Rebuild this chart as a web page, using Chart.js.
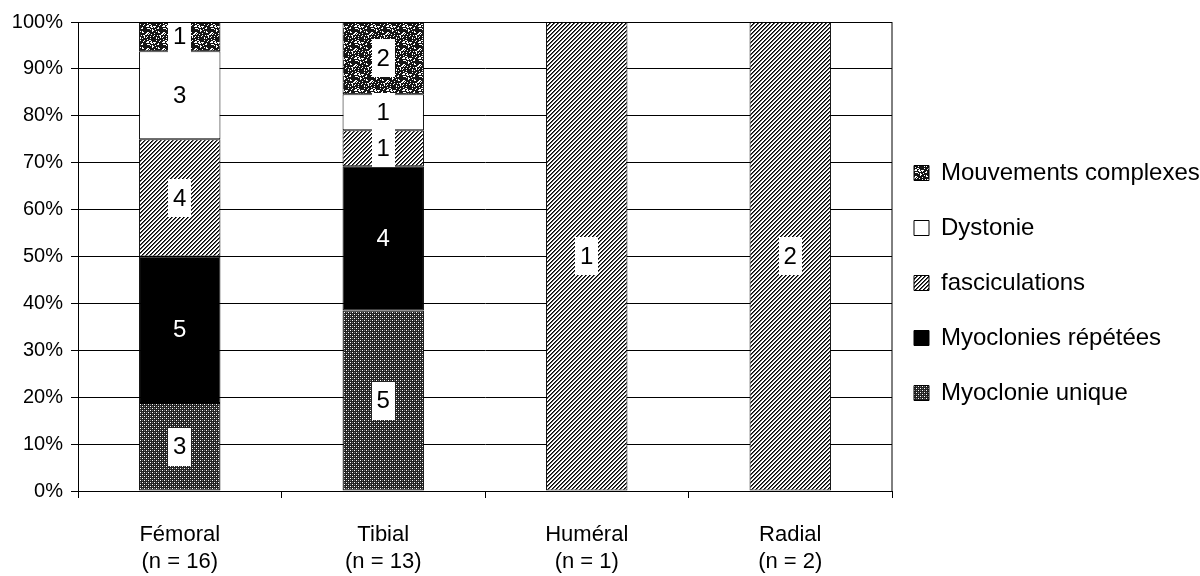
<!DOCTYPE html>
<html><head><meta charset="utf-8">
<script src="https://cdn.jsdelivr.net/npm/chart.js@4.4.1/dist/chart.umd.min.js"></script>
<style>html,body{margin:0;padding:0;background:#fff;overflow:hidden;} #wrap{width:1200px;height:576px;}</style>
</head><body><div id="wrap"><canvas id="c" width="1200" height="576"></canvas></div>
<script>
// ---- data ----
const categories = [['Fémoral','(n = 16)'],['Tibial','(n = 13)'],['Huméral','(n = 1)'],['Radial','(n = 2)']];
const seriesNames = ['Myoclonie unique','Myoclonies répétées','fasciculations','Dystonie','Mouvements complexes'];
const myoclonieUnique     = [3, 5, 0, 0];
const myocloniesRepetees  = [5, 4, 0, 0];
const fasciculations      = [4, 1, 1, 2];
const dystonie            = [3, 1, 0, 0];
const mouvementsComplexes = [1, 2, 0, 0];
const yTickValues = [0,10,20,30,40,50,60,70,80,90,100];

const counts = [myoclonieUnique, myocloniesRepetees, fasciculations, dystonie, mouvementsComplexes];
const totals = categories.map((_, i) => counts.reduce((s, arr) => s + arr[i], 0));
const pct = arr => arr.map((v, i) => v / totals[i] * 100);

// ---- patterns ----
function makePattern(w, h, draw) {
  const c = document.createElement('canvas'); c.width = w; c.height = h;
  const x = c.getContext('2d'); draw(x, w, h);
  return document.getElementById('c').getContext('2d').createPattern(c, 'repeat');
}
const dotPattern = makePattern(4, 4, (x) => {
  x.fillStyle = '#222'; x.fillRect(0, 0, 4, 4);
  x.fillStyle = '#fff';
  x.fillRect(0, 0, 1, 1); x.fillRect(2, 2, 1, 1);
  x.fillStyle = '#777';
  x.fillRect(2, 0, 1, 1); x.fillRect(0, 2, 1, 1);
});
const hatchPattern = makePattern(4, 4, (x) => {
  x.fillStyle = '#fff'; x.fillRect(0, 0, 4, 4);
  for (let i = 0; i < 4; i++) for (let j = 0; j < 4; j++) {
    const m = (i + j) % 4;
    if (m === 0) { x.fillStyle = '#000'; x.fillRect(i, j, 1, 1); }
    if (m === 1) { x.fillStyle = '#555'; x.fillRect(i, j, 1, 1); }
  }
});
const speckPattern = makePattern(16, 16, (x) => {
  x.fillStyle = '#151515'; x.fillRect(0, 0, 16, 16);
  x.fillStyle = '#fff';
  for (let i = 0; i < 16; i++) for (let j = 0; j < 16; j++) {
    const hsh = (Math.imul(i + 7, 73856093) ^ Math.imul(j + 3, 19349663)) >>> 0;
    if ((hsh >>> 5) % 100 < 20) x.fillRect(i, j, 1, 1);
  }
});
const fills = [dotPattern, '#000', hatchPattern, '#fff', speckPattern];

const FONT = '"Liberation Sans", Arial, sans-serif';

const frame = {
  id: 'frame',
  afterInit(chart) {
    const lg = chart.legend;
    const f = lg.fit.bind(lg);
    lg.fit = function () { f(); this.width = 308; };
  },
  afterLayout(chart) {
    const lg = chart.legend;
    lg.left = chart.chartArea.right - 9;
    lg.right = 1200;
    lg.top = 0;
    lg.bottom = 566;
  },
  afterDraw(chart) {
    const {ctx, chartArea: a} = chart;
    ctx.save(); ctx.strokeStyle = '#000'; ctx.lineWidth = 1;
    ctx.strokeRect(Math.round(a.left) + 0.5, Math.round(a.top) + 0.5, Math.round(a.right - a.left) - 0.5, Math.round(a.bottom - a.top));
    ctx.restore();
  }
};

const valueLabels = {
  id: 'valueLabels',
  afterDatasetsDraw(chart) {
    const {ctx, chartArea: a} = chart;
    ctx.save();
    ctx.beginPath(); ctx.rect(a.left, a.top, a.right - a.left, a.bottom - a.top); ctx.clip();
    ctx.font = '24px ' + FONT;
    ctx.textAlign = 'center'; ctx.textBaseline = 'middle';
    chart.data.datasets.forEach((ds, di) => {
      const meta = chart.getDatasetMeta(di);
      meta.data.forEach((bar, i) => {
        const v = counts[di][i];
        if (!v) return;
        const cx = bar.x, cy = (bar.y + bar.base) / 2;
        const txt = String(v);
        const w = ctx.measureText(txt).width + 10;
        if (di === 1) {
          ctx.fillStyle = '#fff';
        } else {
          ctx.fillStyle = '#fff';
          ctx.fillRect(Math.round(cx - w / 2), Math.round(cy - 19), Math.round(w), 38);
          ctx.fillStyle = '#000';
        }
        ctx.fillText(txt, cx, cy + 1);
      });
    });
    ctx.restore();
  }
};

new Chart(document.getElementById('c'), {
  type: 'bar',
  data: {
    labels: categories,
    datasets: seriesNames.map((name, k) => ({
      label: name,
      data: pct(counts[k]),
      backgroundColor: fills[k],
      borderColor: '#000',
      borderWidth: 1,
      borderSkipped: false,
      barPercentage: 0.4,
      categoryPercentage: 1.0
    }))
  },
  options: {
    responsive: false,
    animation: false,
    devicePixelRatio: 1,
    layout: { padding: { left: 0, top: 22, right: 0, bottom: 0 } },
    scales: {
      x: {
        stacked: true,
        afterFit: (axis) => { axis.height = 85; },
        grid: { offset: true, drawOnChartArea: false, drawTicks: true, tickLength: 7, color: '#000' },
        border: { color: '#000', width: 1 },
        ticks: { color: '#000', font: { family: FONT, size: 22, lineHeight: 1.25 }, padding: 23, maxRotation: 0, autoSkip: false }
      },
      y: {
        stacked: true,
        min: 0, max: 100,
        afterFit: (axis) => { axis.width = 78; },
        afterBuildTicks: (axis) => { axis.ticks = yTickValues.map(v => ({ value: v })); },
        grid: { color: '#000', lineWidth: 1, tickLength: 7 },
        border: { color: '#000', width: 1 },
        ticks: { color: '#000', font: { family: FONT, size: 20 }, padding: 8, callback: v => v + '%' }
      }
    },
    plugins: {
      legend: {
        position: 'right',
        reverse: true,
        labels: { boxWidth: 15, boxHeight: 15, padding: 31, color: '#000', font: { family: FONT, size: 24 } }
      },
      tooltip: { enabled: false }
    }
  },
  plugins: [frame, valueLabels]
});
</script>
</body></html>
